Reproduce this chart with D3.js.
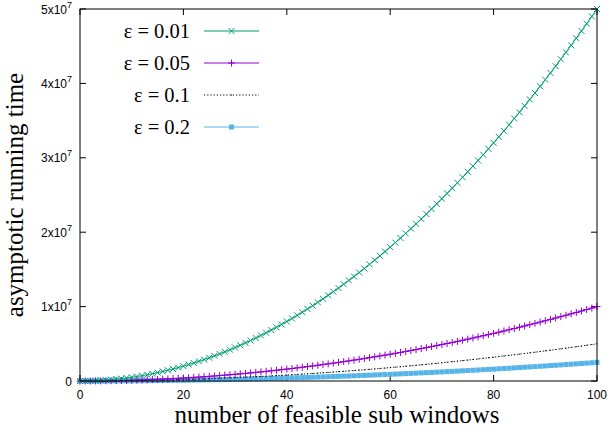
<!DOCTYPE html>
<html>
<head>
<meta charset="utf-8">
<script src="https://cdn.jsdelivr.net/npm/d3@7"></script>
<style>
  body { margin: 0; background: #fff; }
  svg { display: block; }
</style>
</head>
<body>
<svg id="chart" width="610" height="432"></svg>
<script>
// number of feasible sub windows (x axis)
let windows = [0,1,2,3,4,5,6,7,8,9,10,11,12,13,14,15,16,17,18,19,20,21,22,23,24,25,26,27,28,29,30,31,32,33,34,35,36,37,38,39,40,41,42,43,44,45,46,47,48,49,50,51,52,53,54,55,56,57,58,59,60,61,62,63,64,65,66,67,68,69,70,71,72,73,74,75,76,77,78,79,80,81,82,83,84,85,86,87,88,89,90,91,92,93,94,95,96,97,98,99,100];

// running time, one array per epsilon
let eps001 = [0,5000,20000,45000,80000,125000,180000,245000,320000,405000,500000,605000,720000,845000,980000,1125000,1280000,1445000,1620000,1805000,2000000,2205000,2420000,2645000,2880000,3125000,3380000,3645000,3920000,4205000,4500000,4805000,5120000,5445000,5780000,6125000,6480000,6845000,7220000,7605000,8000000,8405000,8820000,9245000,9680000,10125000,10580000,11045000,11520000,12005000,12500000,13005000,13520000,14045000,14580000,15125000,15680000,16245000,16820000,17405000,18000000,18605000,19220000,19845000,20480000,21125000,21780000,22445000,23120000,23805000,24500000,25205000,25920000,26645000,27380000,28125000,28880000,29645000,30420000,31205000,32000000,32805000,33620000,34445000,35280000,36125000,36980000,37845000,38720000,39605000,40500000,41405000,42320000,43245000,44180000,45125000,46080000,47045000,48020000,49005000,50000000];
let eps005 = [0,1000,4000,9000,16000,25000,36000,49000,64000,81000,100000,121000,144000,169000,196000,225000,256000,289000,324000,361000,400000,441000,484000,529000,576000,625000,676000,729000,784000,841000,900000,961000,1024000,1089000,1156000,1225000,1296000,1369000,1444000,1521000,1600000,1681000,1764000,1849000,1936000,2025000,2116000,2209000,2304000,2401000,2500000,2601000,2704000,2809000,2916000,3025000,3136000,3249000,3364000,3481000,3600000,3721000,3844000,3969000,4096000,4225000,4356000,4489000,4624000,4761000,4900000,5041000,5184000,5329000,5476000,5625000,5776000,5929000,6084000,6241000,6400000,6561000,6724000,6889000,7056000,7225000,7396000,7569000,7744000,7921000,8100000,8281000,8464000,8649000,8836000,9025000,9216000,9409000,9604000,9801000,10000000];
let eps01 = [0,500,2000,4500,8000,12500,18000,24500,32000,40500,50000,60500,72000,84500,98000,112500,128000,144500,162000,180500,200000,220500,242000,264500,288000,312500,338000,364500,392000,420500,450000,480500,512000,544500,578000,612500,648000,684500,722000,760500,800000,840500,882000,924500,968000,1012500,1058000,1104500,1152000,1200500,1250000,1300500,1352000,1404500,1458000,1512500,1568000,1624500,1682000,1740500,1800000,1860500,1922000,1984500,2048000,2112500,2178000,2244500,2312000,2380500,2450000,2520500,2592000,2664500,2738000,2812500,2888000,2964500,3042000,3120500,3200000,3280500,3362000,3444500,3528000,3612500,3698000,3784500,3872000,3960500,4050000,4140500,4232000,4324500,4418000,4512500,4608000,4704500,4802000,4900500,5000000];
let eps02 = [0,250,1000,2250,4000,6250,9000,12250,16000,20250,25000,30250,36000,42250,49000,56250,64000,72250,81000,90250,100000,110250,121000,132250,144000,156250,169000,182250,196000,210250,225000,240250,256000,272250,289000,306250,324000,342250,361000,380250,400000,420250,441000,462250,484000,506250,529000,552250,576000,600250,625000,650250,676000,702250,729000,756250,784000,812250,841000,870250,900000,930250,961000,992250,1024000,1056250,1089000,1122250,1156000,1190250,1225000,1260250,1296000,1332250,1369000,1406250,1444000,1482250,1521000,1560250,1600000,1640250,1681000,1722250,1764000,1806250,1849000,1892250,1936000,1980250,2025000,2070250,2116000,2162250,2209000,2256250,2304000,2352250,2401000,2450250,2500000];

// legend labels and tick values
let seriesLabels = ["ε = 0.01", "ε = 0.05", "ε = 0.1", "ε = 0.2"];
let xTicks = [0, 20, 40, 60, 80, 100];
let yTicks = [0, 10000000, 20000000, 30000000, 40000000, 50000000];
let yTickMantissa = ["0", "1", "2", "3", "4", "5"];

let svg = d3.select("#chart"),
    plotLeft = 80, plotRight = 597, plotTop = 9, plotBottom = 381;

let x = d3.scaleLinear().domain([0, 100]).range([plotLeft, plotRight]);
let y = d3.scaleLinear().domain([0, 50000000]).range([plotBottom, plotTop]);

// style for each series (gnuplot look)
let series = [
    {label: seriesLabels[0], values: eps001, color: "#009e73", marker: "cross", dash: null},
    {label: seriesLabels[1], values: eps005, color: "#9400d3", marker: "plus", dash: null},
    {label: seriesLabels[2], values: eps01, color: "#000000", marker: "dot", dash: "1.2,2"},
    {label: seriesLabels[3], values: eps02, color: "#56b4e9", marker: "square", dash: null}
];

// ticks, drawn inward on all four sides
let tickLen = 6;
let axisG = svg.append("g").attr("stroke", "#000").attr("stroke-width", 1);
xTicks.forEach(function(t){
    axisG.append("line").attr("x1", x(t)).attr("x2", x(t)).attr("y1", plotBottom).attr("y2", plotBottom - tickLen);
    axisG.append("line").attr("x1", x(t)).attr("x2", x(t)).attr("y1", plotTop).attr("y2", plotTop + tickLen);
});
yTicks.forEach(function(t){
    axisG.append("line").attr("x1", plotLeft).attr("x2", plotLeft + tickLen).attr("y1", y(t)).attr("y2", y(t));
    axisG.append("line").attr("x1", plotRight).attr("x2", plotRight - tickLen).attr("y1", y(t)).attr("y2", y(t));
});

// tick labels
svg.append("g").selectAll("text")
   .data(xTicks)
   .enter().append("text")
   .attr("x", function(d){ return x(d); })
   .attr("y", 398.5)
   .attr("text-anchor", "middle")
   .style("font-family", "Liberation Sans, Arial, sans-serif")
   .style("font-size", "12px")
   .text(function(d){ return d; });

let yLab = svg.append("g").selectAll("text")
   .data(yTicks)
   .enter().append("text")
   .attr("x", 72)
   .attr("y", function(d){ return y(d) + 4.5; })
   .attr("text-anchor", "end")
   .style("font-family", "Liberation Sans, Arial, sans-serif")
   .style("font-size", "12px");
yLab.each(function(d, i){
    let t = d3.select(this);
    if (d === 0) { t.text("0"); return; }
    t.append("tspan").text(yTickMantissa[i] + "x10");
    t.append("tspan").attr("dy", -6).style("font-size", "9px").text("7");
});

// axis titles
svg.append("text")
   .attr("x", 337).attr("y", 423)
   .attr("text-anchor", "middle")
   .style("font-family", "Liberation Serif, Times New Roman, serif")
   .style("font-size", "25px")
   .text("number of feasible sub windows");
svg.append("text")
   .attr("transform", "translate(22.5,195) rotate(-90)")
   .attr("text-anchor", "middle")
   .style("font-family", "Liberation Serif, Times New Roman, serif")
   .style("font-size", "25px")
   .text("asymptotic running time");

// draws one marker of the given kind
function drawMarker(g, kind, cx, cy, color){
    if (kind === "cross") {
        g.append("path").attr("d", `M${cx-3},${cy-3}L${cx+3},${cy+3}M${cx-3},${cy+3}L${cx+3},${cy-3}`)
         .attr("stroke", color).attr("stroke-width", 1).attr("fill", "none");
    } else if (kind === "plus") {
        g.append("path").attr("d", `M${cx-3.5},${cy}L${cx+3.5},${cy}M${cx},${cy-3.5}L${cx},${cy+3.5}`)
         .attr("stroke", color).attr("stroke-width", 1).attr("fill", "none");
    } else if (kind === "square") {
        g.append("rect").attr("x", cx-2.5).attr("y", cy-2.5).attr("width", 5).attr("height", 5)
         .attr("fill", color);
    } else {
        g.append("rect").attr("x", cx-0.5).attr("y", cy-0.5).attr("width", 1).attr("height", 1)
         .attr("fill", color);
    }
}

let line = d3.line()
    .x(function(d, i){ return x(windows[i]); })
    .y(function(d){ return y(d); });

// curves and their markers, last series drawn first so green sits on top
let plotG = svg.append("g");
series.slice().reverse().forEach(function(s){
    plotG.append("path")
         .attr("d", line(s.values))
         .attr("fill", "none")
         .attr("stroke", s.color)
         .attr("stroke-width", 1)
         .attr("stroke-dasharray", s.dash);
    s.values.forEach(function(v, i){
        drawMarker(plotG, s.marker, x(windows[i]), y(v), s.color);
    });
});

// legend
let legendY = [31, 63, 95, 127];
series.forEach(function(s, i){
    let ly = legendY[i];
    svg.append("text")
       .attr("x", 190).attr("y", ly + 7)
       .attr("text-anchor", "end")
       .style("font-family", "Liberation Serif, Times New Roman, serif")
       .style("font-size", "20.5px")
       .text(s.label);
    svg.append("line")
       .attr("x1", 204).attr("x2", 259).attr("y1", ly).attr("y2", ly)
       .attr("stroke", s.color).attr("stroke-width", 1)
       .attr("stroke-dasharray", s.dash);
    drawMarker(svg, s.marker, 231.5, ly, s.color);
});

// plot border
svg.append("rect")
   .attr("x", plotLeft).attr("y", plotTop)
   .attr("width", plotRight - plotLeft).attr("height", plotBottom - plotTop)
   .attr("fill", "none").attr("stroke", "#000").attr("stroke-width", 1);
</script>
</body>
</html>
